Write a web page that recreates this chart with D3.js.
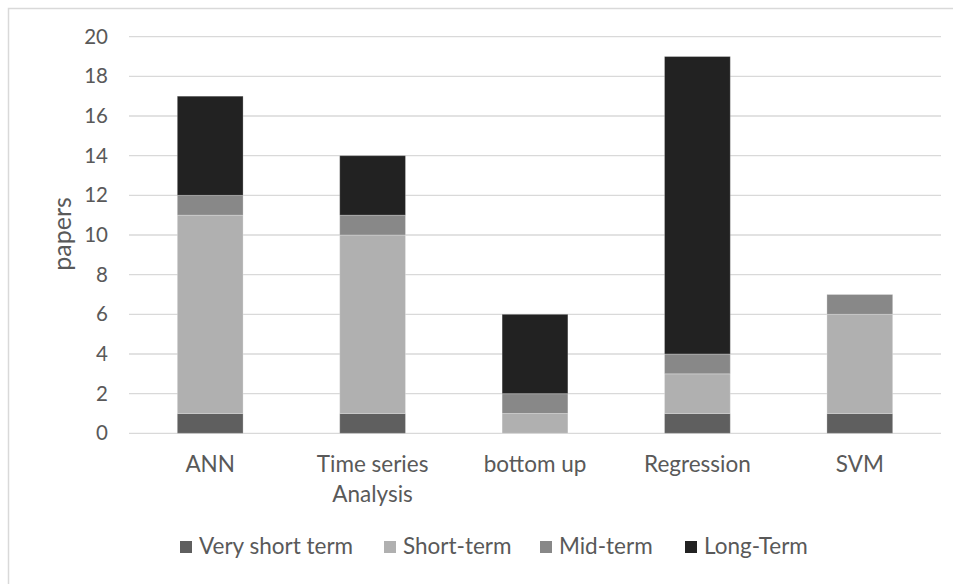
<!DOCTYPE html>
<html>
<head>
<meta charset="utf-8">
<script src="https://cdn.jsdelivr.net/npm/d3@7"></script>
<style>
  html, body { margin: 0; padding: 0; background: #fff; }
  svg { display: block; }
  text { font-family: Lato, "Open Sans", sans-serif; fill: #595959; }
</style>
</head>
<body>
<svg id="chart" width="959" height="584"></svg>
<script>
const categories = [["ANN"], ["Time series", "Analysis"], ["bottom up"], ["Regression"], ["SVM"]];
const seriesNames = ["Very short term", "Short-term", "Mid-term", "Long-Term"];
const veryShortTerm = [1, 1, 0, 1, 1];
const shortTerm = [10, 9, 1, 2, 5];
const midTerm = [1, 1, 1, 1, 1];
const longTerm = [5, 3, 4, 15, 0];
const yTicks = [0, 2, 4, 6, 8, 10, 12, 14, 16, 18, 20];
const colors = ["#5f5f5f", "#b0b0b0", "#888888", "#222222"];

const svg = d3.select("#chart");
const W = 959, H = 584;
const plot = { left: 129, right: 941, top: 36.7, bottom: 433.3 };

// frame (only left & top visible in the reference)
svg.append("path")
  .attr("d", `M8.5,${H + 5}V8.5H953`)
  .attr("fill", "none").attr("stroke", "#d9d9d9").attr("stroke-width", 1.5);

const keys = categories.map((c, i) => i);
const x = d3.scaleBand().domain(keys).range([plot.left, plot.right]).paddingInner(0.595).paddingOuter(0.2975);
const y = d3.scaleLinear().domain([0, 20]).range([plot.bottom, plot.top]);

// gridlines
svg.append("g").selectAll("line").data(yTicks).join("line")
  .attr("x1", plot.left).attr("x2", plot.right)
  .attr("y1", d => y(d)).attr("y2", d => y(d))
  .attr("stroke", "#d9d9d9").attr("stroke-width", 1.3);

// y axis labels
const yAxis = d3.axisLeft(y).tickValues(yTicks).tickSize(0).tickPadding(0);
const gy = svg.append("g").attr("transform", `translate(108,0)`).call(yAxis);
gy.select(".domain").remove();
gy.selectAll("text").attr("font-size", 20.5).attr("font-family", "Lato, sans-serif").attr("fill", "#595959");

// y title
svg.append("text")
  .attr("transform", `translate(71,234) rotate(-90)`)
  .attr("text-anchor", "middle")
  .attr("font-size", 25)
  .text("papers");

// stacked bars
const rows = keys.map(i => ({ idx: i, s0: veryShortTerm[i], s1: shortTerm[i], s2: midTerm[i], s3: longTerm[i] }));
const stack = d3.stack().keys(["s0", "s1", "s2", "s3"]);
const stacked = stack(rows);

svg.append("g").selectAll("g").data(stacked).join("g")
  .attr("fill", (d, i) => colors[i])
  .selectAll("rect").data(d => d.filter(p => p[1] - p[0] > 0)).join("rect")
  .attr("x", d => x(d.data.idx))
  .attr("width", x.bandwidth())
  .attr("y", d => y(d[1]))
  .attr("height", d => y(d[0]) - y(d[1]))
  .attr("stroke", "#ffffff").attr("stroke-opacity", 0.25).attr("stroke-width", 1);

// x labels
const xl = svg.append("g").selectAll("text").data(keys).join("text")
  .attr("x", d => x(d) + x.bandwidth() / 2)
  .attr("y", 472)
  .attr("text-anchor", "middle")
  .attr("font-size", 22.5);
xl.selectAll("tspan").data(d => categories[d].map(t => ({ t, d }))).join("tspan")
  .attr("x", o => x(o.d) + x.bandwidth() / 2)
  .attr("dy", (o, j) => j === 0 ? 0 : 30)
  .text(o => o.t);

// legend
const legendX = [180, 384, 540, 685];
const lg = svg.append("g").selectAll("g").data(seriesNames).join("g")
  .attr("transform", (d, i) => `translate(${legendX[i]},541)`);
lg.append("rect").attr("width", 12).attr("height", 12).attr("fill", (d, i) => colors[i]);
lg.append("text").attr("x", 19).attr("y", 13).attr("font-size", 22.5).text(d => d);
</script>
</body>
</html>
